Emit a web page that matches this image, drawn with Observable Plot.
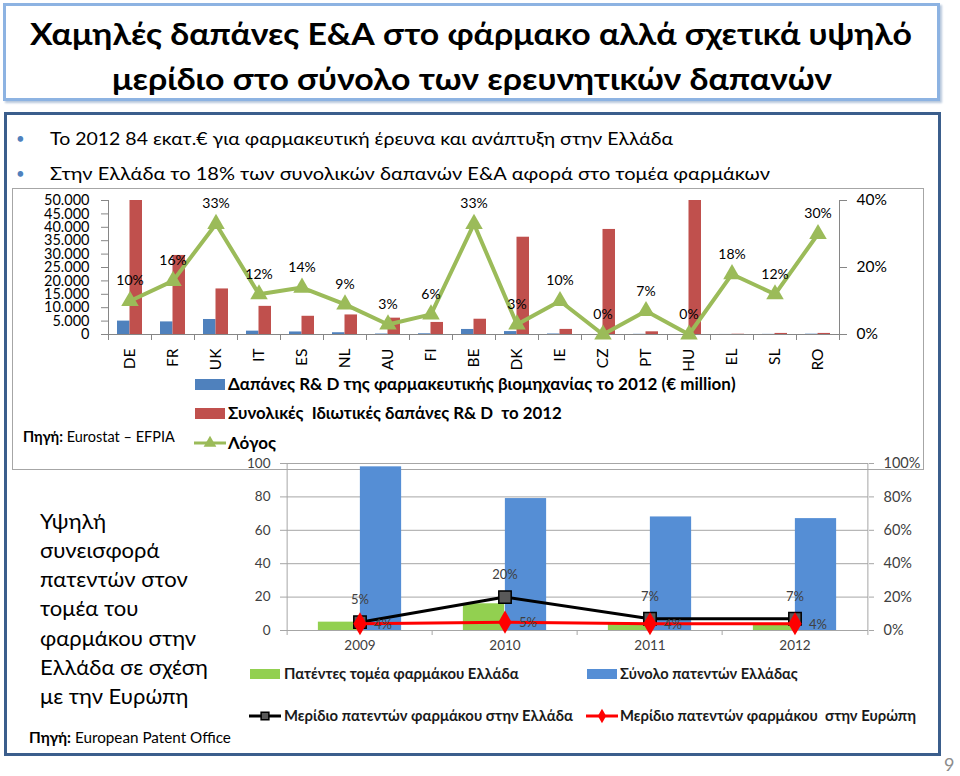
<!DOCTYPE html>
<html><head><meta charset="utf-8">
<script src="https://cdn.jsdelivr.net/npm/d3@7"></script>
<script src="https://cdn.jsdelivr.net/npm/@observablehq/plot@0.6"></script>
<style>
body{margin:0;background:#fff;}
#page{position:relative;width:960px;height:776px;overflow:hidden;font-family:Lato,"Open Sans",sans-serif;color:#000;}
.abs{position:absolute;box-sizing:border-box;}
.t{position:absolute;white-space:pre;line-height:1.2;transform:translateY(-50%);transform-origin:left center;}
</style></head><body><div id="page"></div>
<script>
// ---------- DATA ----------
const titleLines = ["Χαμηλές δαπάνες Ε&Α στο φάρμακο αλλά σχετικά υψηλό", "μερίδιο στο σύνολο των ερευνητικών δαπανών"];
const bullets = ["Το 2012 84 εκατ.€ για φαρμακευτική έρευνα και ανάπτυξη στην Ελλάδα", "Στην Ελλάδα το 18% των συνολικών δαπανών Ε&Α αφορά στο τομέα φαρμάκων"];

const cats = ["DE","FR","UK","IT","ES","NL","AU","FI","BE","DK","IE","CZ","PT","HU","EL","SL","RO"];
const pharmaRD = [5000,4700,5600,1250,950,660,180,270,1880,1090,190,0,70,0,20,50,120];
const totalRD = [50000,29500,17000,10500,6800,7300,6100,4500,5700,36300,1900,39200,1000,50000,100,400,400];
const ratio = [0.10,0.16,0.33,0.12,0.14,0.09,0.03,0.06,0.33,0.03,0.10,0.00,0.07,0.00,0.18,0.12,0.30];
const topLeftTicks = [0,5000,10000,15000,20000,25000,30000,35000,40000,45000,50000];
const topRightTicks = [0,0.2,0.4];
const topLegend = ["Δαπάνες R& D της φαρμακευτικής βιομηχανίας το 2012 (€ million)", "Συνολικές  Ιδιωτικές δαπάνες R& D  το 2012", "Λόγος"];

const years = ["2009","2010","2011","2012"];
const pharmaPatents = [5,16,4,4];
const totalPatents = [98,79,68,67];
const shareGreece = [0.05,0.20,0.07,0.07];
const shareEurope = [0.04,0.05,0.04,0.04];
const botLeftTicks = [0,20,40,60,80,100];
const botRightTicks = [0,0.2,0.4,0.6,0.8,1];
const botLegend = ["Πατέντες τομέα φαρμάκου Ελλάδα","Σύνολο πατεντών Ελλάδας","Μερίδιο πατεντών φαρμάκου στην Ελλάδα","Μερίδιο πατεντών φαρμάκου  στην Ευρώπη"];
const leftText = ["Υψηλή","συνεισφορά","πατεντών στον","τομέα του","φαρμάκου στην","Ελλάδα σε σχέση","με την Ευρώπη"];

const topData = cats.map((c,i)=>({cat:c, pharma:pharmaRD[i], total:totalRD[i], ratio:ratio[i]}));
const botData = years.map((y,i)=>({year:y, pharma:pharmaPatents[i], total:totalPatents[i], greece:shareGreece[i], europe:shareEurope[i]}));

// ---------- helpers ----------
const FONT = 'Lato, "Open Sans", sans-serif';
const page = document.getElementById("page");
function box(x,y,w,h,css){const d=document.createElement("div");d.className="abs";Object.assign(d.style,{left:x+"px",top:y+"px",width:w+"px",height:h+"px"},css||{});page.appendChild(d);return d;}
function txt(s,x,yc,size,o={}){
  const d=document.createElement("div");d.className="t";
  d.style.left=x+"px";d.style.top=yc+"px";d.style.fontSize=size+"px";
  if(o.bold)d.style.fontWeight="bold";
  if(o.color)d.style.color=o.color;
  if(o.html)d.innerHTML=s;else d.textContent=s;
  page.appendChild(d);
  let w=d.getBoundingClientRect().width;
  if(o.fit){d.style.fontSize=(size*o.fit/w)+"px";w=o.fit;}
  if(o.sx){const k=o.sx/w;d.style.transform=`translateY(-50%) scaleX(${k})`;w=o.sx;}
  if(o.center){d.style.left=(x-w/2)+"px";}
  return d;
}
function place(svg,x,y){svg.style.position="absolute";svg.style.left=x+"px";svg.style.top=y+"px";page.appendChild(svg);}
function icon(x,yc,color,symbol,stroke){
  const ns="http://www.w3.org/2000/svg";
  const s=document.createElementNS(ns,"svg");s.setAttribute("width",32);s.setAttribute("height",16);
  s.style.position="absolute";s.style.left=x+"px";s.style.top=(yc-8)+"px";
  s.innerHTML=`<line x1="0" x2="32" y1="8" y2="8" stroke="${color}" stroke-width="3"/>`+
    `<path transform="translate(16,8)" d="${d3.symbol(symbol,symbol===d3.symbolTriangle?70:60)()}" fill="${symbol===d3.symbolSquare?'#595959':color}" stroke="${stroke||'none'}" stroke-width="1.5"/>`;
  page.appendChild(s);
}

// ---------- frames & text ----------
box(3,3,937,98,{border:"3px solid #8db3e2",boxShadow:"2px 2px 2px #b8c8dc"});
box(4,112,937,644,{border:"3px solid #3b5e8c"});
box(12,188,912,282,{border:"1px solid #a6a6a6"});

txt(titleLines[0],471,33,30,{bold:true,sx:882,center:true});
txt(titleLines[1],472,78,30,{bold:true,sx:720,center:true});

txt("•",16,138,15,{color:"#4f81bd"});
txt("•",16,173,15,{color:"#4f81bd"});
txt(bullets[0],50,138,17.5,{sx:623});
txt(bullets[1],50,173,17.5,{sx:720});

// top legend
box(195,379,30,11,{background:"#4f81bd"});
box(195,408,30,11,{background:"#c0504d"});
icon(194,443,"#9bbb59",d3.symbolTriangle);
txt(topLegend[0],228,384,16,{bold:true,fit:508});
txt(topLegend[1],228,413,16,{bold:true,fit:334});
txt(topLegend[2],228,443,16,{bold:true,fit:48});
txt("<b>Πηγή:</b> Eurostat – EFPIA",23,437,14,{html:true,fit:152});

// bottom legend
box(250,669,30,10,{background:"#92d050"});
box(587,669,30,10,{background:"#558ed5"});
icon(249,716,"#000",d3.symbolSquare,"#000");
icon(586,716,"#ff0000",d3.symbolDiamond);
txt(botLegend[0],284,674,15,{bold:true,fit:235,color:"#1a1a1a"});
txt(botLegend[1],620,674,15,{bold:true,fit:178,color:"#1a1a1a"});
txt(botLegend[2],284,716,15,{bold:true,fit:289,color:"#1a1a1a"});
txt(botLegend[3],620,716,15,{bold:true,fit:296,color:"#1a1a1a"});

// left text
const ref = txt(leftText[5],40,667,22,{fit:168});
const lsize = ref.style.fontSize;
[521,550,579,608,638,667,696].forEach((y,i)=>{ if(i!==5){ const d=txt(leftText[i],40,y,22); d.style.fontSize=lsize; } });
txt("<b>Πηγή:</b> European Patent Office",29,737,14,{html:true,fit:202});
txt("9",944,765,18,{color:"#8c8c8c"});

// ---------- top chart ----------
const W1=930,H1=190,ML1=108,MR1=91,MT1=10,MB1=46;
const PH1=H1-MT1-MB1;
const bw1=(W1-ML1-MR1)/cats.length;
const fmtK=d3.formatLocale({decimal:",",thousands:".",grouping:[3],currency:["","€"]}).format(",");
const fmtPct=d3.format(".0%");
const AX="#868686";
const base1={width:W1,height:H1,marginLeft:ML1,marginRight:MR1,marginTop:MT1,marginBottom:MB1,
  style:{fontFamily:FONT,fontSize:"15px",color:"#000",background:"transparent",overflow:"visible"},
  x:{type:"band",domain:cats,padding:0,axis:null}};
const top1=Plot.plot({...base1,
  y:{domain:[0,50000],axis:null},
  marks:[
    Plot.barY(topData,{x:"cat",y:"pharma",fill:"#4f81bd",insetLeft:bw1/2-12.5,insetRight:bw1/2}),
    Plot.barY(topData,{x:"cat",y:"total",fill:"#c0504d",insetLeft:bw1/2,insetRight:bw1/2-12.5}),
    Plot.ruleY([0],{stroke:AX}),
    Plot.ruleX([cats[0]],{dx:-bw1/2,stroke:AX}),
    Plot.ruleX(cats,{dx:-bw1/2,insetTop:PH1,insetBottom:-6,stroke:AX}),
    Plot.ruleX([cats[cats.length-1]],{dx:bw1/2,insetTop:PH1,insetBottom:-6,stroke:AX}),
    Plot.axisY({ticks:topLeftTicks,tickFormat:fmtK,tickSize:7,tickPadding:12,stroke:AX,fill:"#000",fontSize:14.5,label:null}),
    Plot.text(topData,{x:"cat",frameAnchor:"bottom",text:"cat",rotate:-90,textAnchor:"end",lineAnchor:"middle",dy:14,fontSize:15.5,fill:"#000"})
  ]});
place(top1,0,190);
const top2=Plot.plot({...base1,
  y:{domain:[0,0.4],axis:null},
  marks:[
    Plot.ruleX([cats[cats.length-1]],{dx:bw1/2,stroke:AX}),
    Plot.axisY({anchor:"right",ticks:topRightTicks,tickFormat:fmtPct,tickSize:7,tickPadding:10,stroke:AX,fill:"#000",fontSize:15.5,label:null}),
    Plot.line(topData,{x:"cat",y:"ratio",stroke:"#9bbb59",strokeWidth:4}),
    Plot.dot(topData,{x:"cat",y:"ratio",symbol:"triangle",r:6.5,fill:"#9bbb59"}),
    Plot.text(topData,{x:"cat",y:"ratio",text:d=>fmtPct(d.ratio),dy:-20,fontSize:14,fill:"#000"})
  ]});
place(top2,0,190);

// ---------- bottom chart ----------
const W2=700,H2=215,ML2=55,MR2=62,MT2=13,MB2=35;
const PH2=H2-MT2-MB2;
const bw2=(W2-ML2-MR2)/years.length;
const GR="#a6a6a6";
const base2={width:W2,height:H2,marginLeft:ML2,marginRight:MR2,marginTop:MT2,marginBottom:MB2,
  style:{fontFamily:FONT,fontSize:"14px",color:"#404040",background:"transparent",overflow:"visible"},
  x:{type:"band",domain:years,padding:0,axis:null}};
const bot1=Plot.plot({...base2,
  y:{domain:[0,100],axis:null},
  marks:[
    Plot.gridY({ticks:botLeftTicks,stroke:GR,strokeOpacity:1}),
    Plot.barY(botData,{x:"year",y:"pharma",fill:"#92d050",insetLeft:bw2/2-42,insetRight:bw2/2}),
    Plot.barY(botData,{x:"year",y:"total",fill:"#558ed5",insetLeft:bw2/2,insetRight:bw2/2-42}),
    Plot.ruleY([0],{stroke:GR}),
    Plot.ruleX([years[0]],{dx:-bw2/2,stroke:GR}),
    Plot.ruleX(years,{dx:-bw2/2,insetTop:PH2,insetBottom:-5,stroke:GR}),
    Plot.ruleX([years[years.length-1]],{dx:bw2/2,insetTop:PH2,insetBottom:-5,stroke:GR}),
    Plot.axisY({ticks:botLeftTicks,tickSize:5,tickPadding:10,stroke:GR,fill:"#404040",fontSize:13.5,label:null}),
    Plot.text(botData,{x:"year",frameAnchor:"bottom",text:"year",dy:19,fontSize:13.5,fill:"#404040"})
  ]});
place(bot1,230,450);
const bot2=Plot.plot({...base2,
  y:{domain:[0,1],axis:null},
  marks:[
    Plot.ruleX([years[years.length-1]],{dx:bw2/2,stroke:GR}),
    Plot.axisY({anchor:"right",ticks:botRightTicks,tickFormat:fmtPct,tickSize:5,tickPadding:10,stroke:GR,fill:"#404040",fontSize:14.5,label:null}),
    Plot.line(botData,{x:"year",y:"greece",stroke:"#000",strokeWidth:3}),
    Plot.dot(botData,{x:"year",y:"greece",symbol:"square",r:7,fill:"#595959",stroke:"#000",strokeWidth:1.5}),
    Plot.line(botData,{x:"year",y:"europe",stroke:"#ff0000",strokeWidth:3}),
    Plot.dot(botData,{x:"year",y:"europe",symbol:"diamond",r:7,fill:"#ff0000"}),
    Plot.text(botData,{x:"year",y:"greece",text:d=>fmtPct(d.greece),dy:-22,fontSize:13,fill:"#404040"}),
    Plot.text(botData,{x:"year",y:"europe",text:d=>fmtPct(d.europe),dx:23,dy:1,fontSize:13,fill:"#404040"})
  ]});
place(bot2,230,450);
</script></body></html>
